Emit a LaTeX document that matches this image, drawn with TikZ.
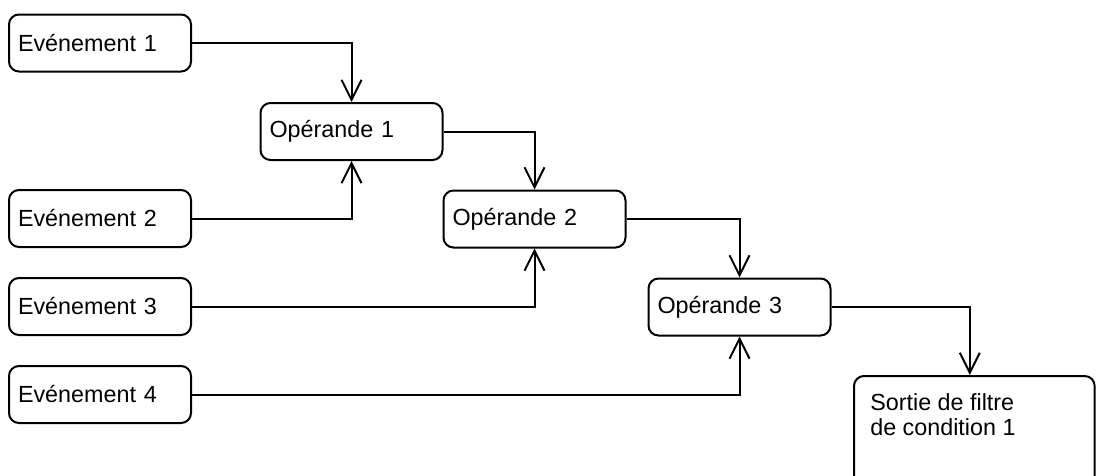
\documentclass[tikz,border=0pt]{standalone}
\usepackage{fontspec}
\setmainfont{Liberation Sans}
\usepackage{tikz}
\usetikzlibrary{arrows.meta,positioning}
\tikzset{flowbox/.style={draw,rounded corners=7.5pt,line width=1.5pt,minimum height=42.75pt,
    text width=123pt,inner xsep=6.75pt,align=left,font=\fontsize{17.5pt}{18.75pt}\selectfont}}
\tikzset{flowline/.style={->,line width=1.5pt}}

\begin{document}
\begin{tikzpicture}[x=0.75pt,y=-0.75pt,>={Straight Barb[length=15pt,width=15pt]}]
    \useasboundingbox (0,0) rectangle (1096,475);
    \clip (0,0) rectangle (1096,475);

    \foreach \y/\n in {43/1,218.5/2,306.5/3,394.5/4} {
      \node[flowbox] (ev\n) at (100,\y) {Evénement \n};
    }

    \node[flowbox] (op1) at (351.5,131.5) {Opérande 1};
    \node[flowbox] (op2) at (534.5,219) {Opérande 2};
    \node[flowbox] (op3) at (739.5,307) {Opérande 3};

    \node[flowbox,anchor=north west,text width=167pt,minimum height=100pt] (sortie) at (853,375) {};
    \node[anchor=north west,align=left,inner sep=0pt,font=\fontsize{17.5pt}{18.75pt}\selectfont]
      (sortietxt) at (870,393) {Sortie de filtre\\de condition 1};

    \draw[flowline] (ev1.east) -| (op1.north);
    \draw[flowline] (ev2.east) -| (op1.south);
    \draw[flowline] (op1.east) -| (op2.north);
    \draw[flowline] (ev3.east) -| (op2.south);
    \draw[flowline] (op2.east) -| (op3.north);
    \draw[flowline] (ev4.east) -| (op3.south);
    \draw[flowline] (op3.east) -| ([xshift=-3.4pt]sortie.north);
  \end{tikzpicture}
\end{document}
